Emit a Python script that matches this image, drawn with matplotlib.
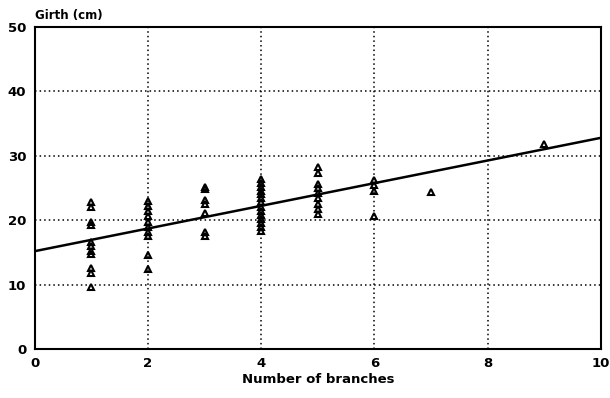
import matplotlib.pyplot as plt

branches = [1] * 11 + [2] * 10 + [3] * 7 + [4] * 14 + [5] * 9 + [6] * 4 + [7, 9]
girth = [
    22.8, 22.0, 19.8, 19.2, 16.6, 16.0, 15.3, 14.8, 12.6, 11.8, 9.6,
    23.0, 22.2, 21.4, 20.6, 19.8, 19.0, 18.2, 17.6, 14.6, 12.4,
    25.2, 24.8, 23.2, 22.6, 21.2, 18.2, 17.6,
    26.4, 25.8, 25.2, 24.6, 24.0, 23.4, 22.8, 22.0, 21.4, 20.8, 20.2, 19.6, 19.0, 18.4,
    28.2, 27.4, 25.6, 25.0, 24.2, 23.4, 22.6, 21.8, 21.0,
    26.2, 25.4, 24.6, 20.6,
    24.4, 31.8,
]
fit_intercept = 15.2
fit_slope = 1.76
x_ticks = [0, 2, 4, 6, 8, 10]
y_ticks = [0, 10, 20, 30, 40, 50]

plt.rcParams["font.family"] = "DejaVu Sans"
plt.rcParams["font.weight"] = "bold"

fig = plt.figure(figsize=(6.1, 3.98), dpi=100)
ax = fig.add_axes([0.057, 0.123, 0.928, 0.809])

ax.plot(branches, girth, linestyle="none", marker="^", markersize=5,
        markerfacecolor="none", markeredgecolor="black", markeredgewidth=1.5)
ax.plot([0, 10], [fit_intercept, fit_intercept + fit_slope * 10], color="black", linewidth=1.8)

ax.set_xlim(0, 10)
ax.set_ylim(0, 50)
ax.set_xticks(x_ticks)
ax.set_yticks(y_ticks)
ax.tick_params(length=0, labelsize=9.5, pad=6)
for label in ax.get_xticklabels() + ax.get_yticklabels():
    label.set_fontweight("heavy")
ax.grid(True, color="black", linestyle=(0, (1, 2)), linewidth=1.1)
for spine in ax.spines.values():
    spine.set_linewidth(1.5)

ax.set_xlabel("Number of branches", fontsize=9.5, fontweight="heavy", labelpad=2)
ax.text(0.0, 1.015, "Girth (cm)", transform=ax.transAxes, fontsize=8.5,
        fontweight="heavy", ha="left", va="bottom")

fig.savefig("out.png", dpi=100)
plt.close(fig)
